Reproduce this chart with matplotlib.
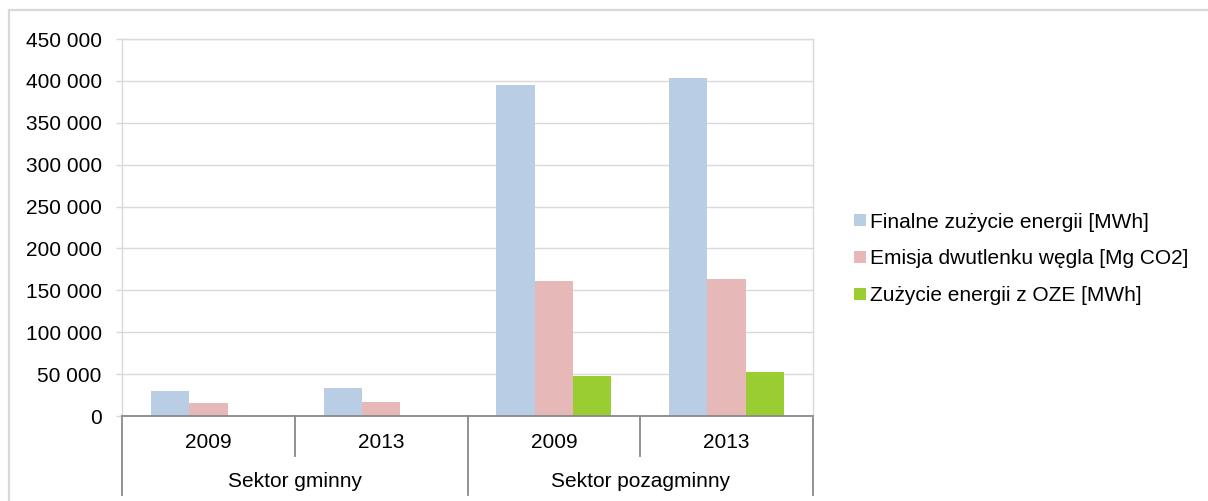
import numpy as np
import matplotlib.pyplot as plt
from matplotlib import transforms
from matplotlib.patches import Rectangle, Patch
from matplotlib.ticker import FuncFormatter

plt.rcParams['font.family'] = ['Liberation Sans', 'DejaVu Sans']

# dane
lata = ['2009', '2013', '2009', '2013']
sektory = ['Sektor gminny', 'Sektor pozagminny']
serie = ['Finalne zużycie energii [MWh]',
         'Emisja dwutlenku węgla [Mg CO2]',
         'Zużycie energii z OZE [MWh]']
zuzycie = [30200, 33400, 395100, 403800]
emisja = [15200, 17100, 160800, 163100]
oze = [0, 0, 47400, 52100]
kolory = ['#B9CDE5', '#E6B9B8', '#9ACD32']

fs = 15
fig = plt.figure(figsize=(12.08, 5.01), dpi=100)
ax = fig.add_axes([122 / 1208, 1 - 416 / 501, (813 - 122) / 1208, (416 - 39) / 501])

# ramka wokol calego wykresu
fig.patches.append(Rectangle((9 / 1208, -0.1), 1.2, 1 - 10 / 501 + 0.1,
                             transform=fig.transFigure, fill=False,
                             edgecolor='#D9D9D9', linewidth=1.6, zorder=0))

x = np.arange(len(lata))
w = 0.222
for i, (vals, c) in enumerate(zip([zuzycie, emisja, oze], kolory)):
    ax.bar(x + (i - 1) * w, vals, width=w, color=c, label=serie[i], zorder=3)

ax.set_xlim(-0.5, 3.5)
ax.set_ylim(0, 450000)
ax.set_yticks(np.arange(0, 450001, 50000))
ax.yaxis.set_major_formatter(FuncFormatter(lambda v, p: f'{int(v):,}'.replace(',', ' ')))
ax.grid(axis='y', color='#D9D9D9', linewidth=1.0, zorder=0)
ax.tick_params(axis='y', length=4.5, width=1.0, color='#D9D9D9', pad=10, labelsize=fs)
ax.set_xticks([])

for s in ['left', 'top', 'right']:
    ax.spines[s].set_color('#D9D9D9')
    ax.spines[s].set_linewidth(1.0)
ax.spines['bottom'].set_color('#898989')
ax.spines['bottom'].set_linewidth(1.3)
ax.spines['bottom'].set_zorder(4)

# os kategorii dwupoziomowa
tr = transforms.blended_transform_factory(ax.transData, ax.transAxes)
for xs in [0.5, 2.5]:
    ax.plot([xs, xs], [0, -0.106], transform=tr, color='#898989', lw=1.3, clip_on=False)
for xs in [-0.5, 1.5, 3.5]:
    ax.plot([xs, xs], [0, -0.21], transform=tr, color='#898989', lw=1.3, clip_on=False)
for xi, rok in zip(x, lata):
    ax.text(xi, -0.069, rok, transform=tr, ha='center', va='center', fontsize=fs)
for xi, sek in zip([0.5, 2.5], sektory):
    ax.text(xi, -0.174, sek, transform=tr, ha='center', va='center', fontsize=fs)

uchwyty = [Patch(facecolor=c, edgecolor='none') for c in kolory]
fig.legend(uchwyty, serie, loc='center left', bbox_to_anchor=(854 / 1208, 1 - 259 / 501),
           frameon=False, fontsize=fs, handlelength=0.58, handleheight=0.52,
           handletextpad=0.19, labelspacing=0.85, borderpad=0, borderaxespad=0)

fig.savefig('out.png', dpi=100)
